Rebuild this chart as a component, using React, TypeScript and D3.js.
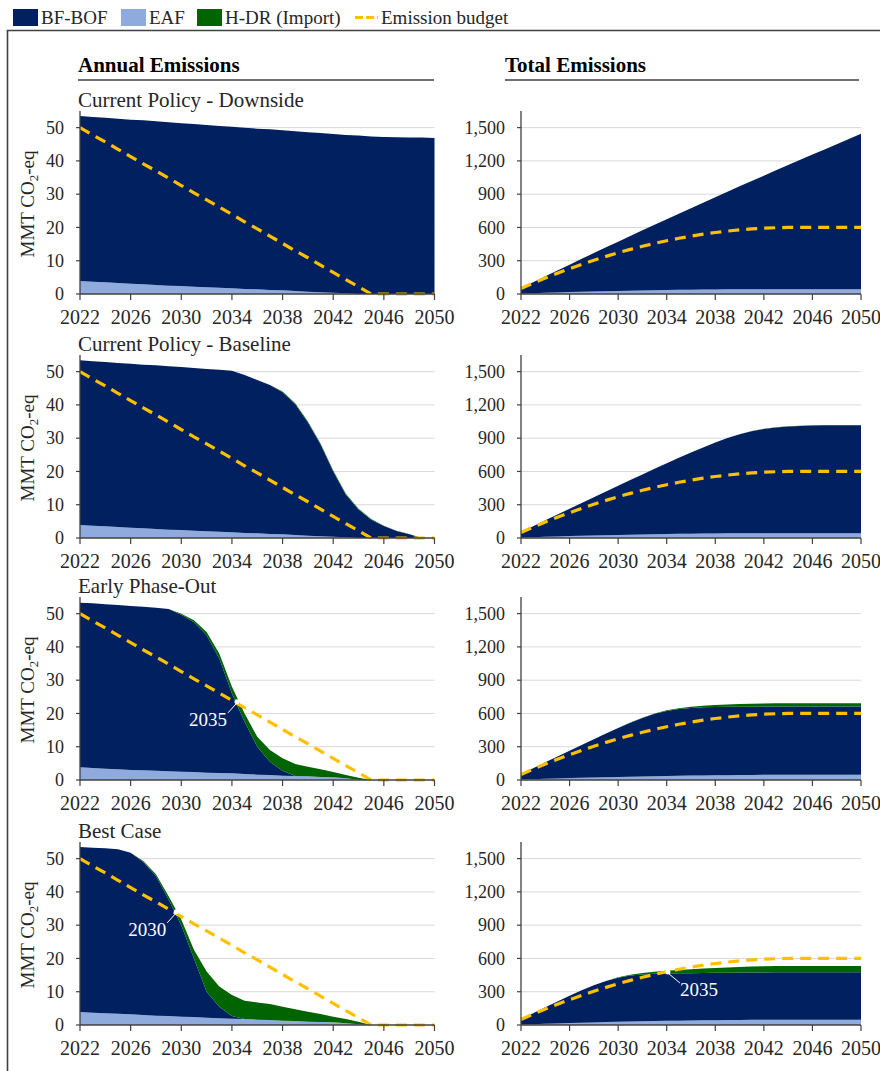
import React from 'react';
import * as d3 from 'd3';

const FONT = "'Liberation Serif', 'Times New Roman', Times, serif";
const COLORS = { bof: '#002060', eaf: '#8faadc', hdr: '#006400', budget: '#ffc000' };

const years = [2022, 2023, 2024, 2025, 2026, 2027, 2028, 2029, 2030, 2031, 2032, 2033, 2034, 2035, 2036,
  2037, 2038, 2039, 2040, 2041, 2042, 2043, 2044, 2045, 2046, 2047, 2048, 2049, 2050];
const xTicks = [2022, 2026, 2030, 2034, 2038, 2042, 2046, 2050];
const annualTicks = [0, 10, 20, 30, 40, 50];
const totalTicks = [0, 300, 600, 900, 1200, 1500];

// emission budget, annual and running total
const budgetAnnual = [50, 47.8, 45.7, 43.5, 41.3, 39.1, 37.0, 34.8, 32.6, 30.4, 28.3, 26.1, 23.9, 21.7, 19.6,
  17.4, 15.2, 13.0, 10.9, 8.7, 6.5, 4.3, 2.2, 0, 0, 0, 0, 0, 0];
const budgetTotal = [50, 97.8, 143.5, 187.0, 228.3, 267.4, 304.4, 339.2, 371.8, 402.2, 430.5, 456.6, 480.5, 502.2,
  521.8, 539.2, 554.4, 567.4, 578.3, 587.0, 593.5, 597.8, 600, 600, 600, 600, 600, 600, 600];

// Current Policy - Downside
const downBof = [49.6, 49.5, 49.5, 49.4, 49.3, 49.3, 49.2, 49.1, 48.9, 48.9, 48.8, 48.6, 48.6, 48.5, 48.3,
  48.3, 48.1, 48.0, 47.9, 47.9, 47.7, 47.6, 47.6, 47.3, 47.2, 47.1, 47.0, 47.0, 46.9];
const downEaf = [3.9, 3.7, 3.5, 3.3, 3.1, 2.9, 2.7, 2.5, 2.4, 2.2, 2.0, 1.9, 1.7, 1.5, 1.4,
  1.2, 1.1, 0.9, 0.7, 0.5, 0.4, 0.2, 0, 0, 0, 0, 0, 0, 0];
const downHdr = [0, 0, 0, 0, 0, 0, 0, 0, 0, 0, 0, 0, 0, 0, 0, 0, 0, 0, 0, 0, 0, 0, 0, 0, 0, 0, 0, 0, 0];
const downBofCum = [49.6, 99.1, 148.6, 198.0, 247.3, 296.6, 345.8, 394.9, 443.8, 492.7, 541.5, 590.1, 638.7, 687.2,
  735.5, 783.8, 831.9, 879.9, 927.8, 975.7, 1023.4, 1071.0, 1118.6, 1165.9, 1213.1, 1260.2, 1307.2, 1354.2, 1401.1];
const downEafCum = [3.9, 7.6, 11.1, 14.4, 17.5, 20.4, 23.1, 25.6, 28.0, 30.2, 32.2, 34.1, 35.8, 37.3, 38.7,
  39.9, 41.0, 41.9, 42.6, 43.1, 43.5, 43.7, 43.7, 43.7, 43.7, 43.7, 43.7, 43.7, 43.7];
const downHdrCum = [0, 0, 0, 0, 0, 0, 0, 0, 0, 0, 0, 0, 0, 0, 0, 0, 0, 0, 0, 0, 0, 0, 0, 0, 0, 0, 0, 0, 0];

// Current Policy - Baseline
const baseBof = [49.5, 49.4, 49.4, 49.3, 49.3, 49.2, 49.2, 49.1, 49.0, 48.9, 48.8, 48.7, 48.6, 47.5, 46.1,
  44.8, 42.7, 39.3, 34.0, 27.6, 19.6, 12.8, 8.6, 5.5, 3.6, 2.1, 1.1, 0, 0];
const baseEaf = [3.9, 3.7, 3.5, 3.3, 3.1, 2.9, 2.7, 2.5, 2.4, 2.2, 2.0, 1.9, 1.7, 1.5, 1.4,
  1.2, 1.1, 0.9, 0.7, 0.5, 0.4, 0.2, 0, 0, 0, 0, 0, 0, 0];
const baseHdr = [0, 0, 0, 0, 0, 0, 0, 0, 0, 0, 0, 0, 0, 0, 0, 0, 0.2, 0.3, 0.3, 0.3, 0.3, 0.3, 0.2, 0.2, 0.1, 0.1, 0.1, 0, 0];
const baseBofCum = [49.5, 98.9, 148.3, 197.6, 246.9, 296.1, 345.3, 394.4, 443.4, 492.3, 541.1, 589.8, 638.4, 685.9,
  732.0, 776.8, 819.5, 858.8, 892.8, 920.4, 940.0, 952.8, 961.4, 966.9, 970.5, 972.6, 973.7, 973.7, 973.7];
const baseEafCum = [3.9, 7.6, 11.1, 14.4, 17.5, 20.4, 23.1, 25.6, 28.0, 30.2, 32.2, 34.1, 35.8, 37.3, 38.7,
  39.9, 41.0, 41.9, 42.6, 43.1, 43.5, 43.7, 43.7, 43.7, 43.7, 43.7, 43.7, 43.7, 43.7];
const baseHdrCum = [0, 0, 0, 0, 0, 0, 0, 0, 0, 0, 0, 0, 0, 0, 0, 0, 0.2, 0.5, 0.8, 1.1, 1.4, 1.7, 1.9, 2.1, 2.2,
  2.3, 2.4, 2.4, 2.4];

// Early Phase-Out
const earlyBof = [49.5, 49.5, 49.4, 49.4, 49.3, 49.2, 49.0, 48.8, 47.2, 45.0, 41.3, 34.4, 24.0, 15.7, 8.4,
  4.0, 1.5, 0, 0, 0, 0, 0, 0, 0, 0, 0, 0, 0, 0];
const earlyEaf = [3.8, 3.6, 3.4, 3.2, 3.0, 2.9, 2.8, 2.6, 2.5, 2.4, 2.2, 2.1, 2.0, 1.8, 1.6,
  1.5, 1.3, 1.2, 1.1, 0.9, 0.8, 0.5, 0.1, 0, 0, 0, 0, 0, 0];
const earlyHdr = [0, 0, 0, 0, 0, 0, 0, 0, 0.3, 0.6, 1.0, 1.5, 2.0, 2.5, 3.0, 3.5, 3.7, 3.6, 2.9, 2.3, 1.6, 1.0, 0.6,
  0, 0, 0, 0, 0, 0];
const earlyBofCum = [49.5, 99.0, 148.4, 197.8, 247.1, 296.3, 345.3, 394.1, 441.3, 486.3, 527.6, 562.0, 586.0, 601.7,
  610.1, 614.1, 615.6, 615.6, 615.6, 615.6, 615.6, 615.6, 615.6, 615.6, 615.6, 615.6, 615.6, 615.6, 615.6];
const earlyEafCum = [3.8, 7.4, 10.8, 14.0, 17.0, 19.9, 22.7, 25.3, 27.8, 30.2, 32.4, 34.5, 36.5, 38.3, 39.9,
  41.4, 42.7, 43.9, 45.0, 45.9, 46.7, 47.2, 47.3, 47.3, 47.3, 47.3, 47.3, 47.3, 47.3];
const earlyHdrCum = [0, 0, 0, 0, 0, 0, 0, 0, 0.3, 0.9, 1.9, 3.4, 5.4, 7.9, 10.9, 14.4, 18.1, 21.7, 24.6, 26.9,
  28.5, 29.5, 30.1, 30.1, 30.1, 30.1, 30.1, 30.1, 30.1];

// Best Case
const bestBof = [49.6, 49.6, 49.6, 49.4, 48.6, 46.0, 42.0, 35.0, 27.5, 17.6, 7.8, 3.5, 0.8, 0, 0,
  0, 0, 0, 0, 0, 0, 0, 0, 0, 0, 0, 0, 0, 0];
const bestEaf = [3.9, 3.7, 3.5, 3.4, 3.2, 3.0, 2.8, 2.7, 2.5, 2.4, 2.2, 2.0, 1.9, 1.8, 1.6,
  1.5, 1.3, 1.2, 1.0, 0.9, 0.8, 0.5, 0.2, 0, 0, 0, 0, 0, 0];
const bestHdr = [0, 0, 0, 0, 0, 0.3, 0.5, 1.0, 1.7, 2.6, 6.1, 6.1, 6.3, 5.5, 5.2, 4.8, 4.2, 3.5, 3.0, 2.4, 1.7,
  1.3, 0.8, 0, 0, 0, 0, 0, 0];
const bestBofCum = [49.6, 99.2, 148.8, 198.2, 246.8, 292.8, 334.8, 369.8, 397.3, 414.9, 422.7, 426.2, 427.0, 427.0,
  427.0, 427.0, 427.0, 427.0, 427.0, 427.0, 427.0, 427.0, 427.0, 427.0, 427.0, 427.0, 427.0, 427.0, 427.0];
const bestEafCum = [3.9, 7.6, 11.1, 14.5, 17.7, 20.7, 23.5, 26.2, 28.7, 31.1, 33.3, 35.3, 37.2, 39.0, 40.6,
  42.1, 43.4, 44.6, 45.6, 46.5, 47.3, 47.8, 48.0, 48.0, 48.0, 48.0, 48.0, 48.0, 48.0];
const bestHdrCum = [0, 0, 0, 0, 0, 0.3, 0.8, 1.8, 3.5, 6.1, 12.2, 18.3, 24.6, 30.1, 35.3, 40.1, 44.3, 47.8, 50.8,
  53.2, 54.9, 56.2, 57.0, 57.0, 57.0, 57.0, 57.0, 57.0, 57.0];

const scenarios = [
  { title: 'Current Policy - Downside', zero: 294,
    annual: [downBof, downEaf, downHdr], total: [downBofCum, downEafCum, downHdrCum], annualNotes: [], totalNotes: [] },
  { title: 'Current Policy - Baseline', zero: 538,
    annual: [baseBof, baseEaf, baseHdr], total: [baseBofCum, baseEafCum, baseHdrCum], annualNotes: [], totalNotes: [] },
  { title: 'Early Phase-Out', zero: 780,
    annual: [earlyBof, earlyEaf, earlyHdr], total: [earlyBofCum, earlyEafCum, earlyHdrCum],
    annualNotes: [{ year: 2034.4, value: 23.5, label: '2035', side: 'left' }], totalNotes: [] },
  { title: 'Best Case', zero: 1025,
    annual: [bestBof, bestEaf, bestHdr], total: [bestBofCum, bestEafCum, bestHdrCum],
    annualNotes: [{ year: 2029.6, value: 34, label: '2030', side: 'left' }],
    totalNotes: [{ year: 2034.1, value: 478, label: '2035', side: 'right' }] },
];

const legendItems = [
  { label: 'BF-BOF', color: COLORS.bof, x: 13 },
  { label: 'EAF', color: COLORS.eaf, x: 121 },
  { label: 'H-DR (Import)', color: COLORS.hdr, x: 197 },
];

const PLOT_H = 183;

function Panel({ left, right, zero, max, ticks, fmt, series, budget, yTitle, notes }) {
  const x = d3.scaleLinear().domain([2022, 2050]).range([left, right]);
  const y = d3.scaleLinear().domain([0, max]).range([zero, zero - PLOT_H]);
  const [bof, eaf, hdr] = series;
  const rows = years.map((yr, i) => ({ year: yr, eaf: eaf[i], bof: bof[i], hdr: hdr[i] }));
  const stacked = d3.stack().keys(['eaf', 'bof', 'hdr'])(rows);
  const area = d3.area()
    .x(d => x(d.data.year))
    .y0(d => y(d[0]))
    .y1(d => y(d[1]));
  const line = d3.line().x((d, i) => x(years[i])).y(d => y(d));

  return (
    <g>
      {ticks.filter(t => t > 0).map(t => (
        <line key={'g' + t} x1={left} x2={right} y1={y(t)} y2={y(t)} stroke="#d9d9d9" strokeWidth={1} />
      ))}
      {stacked.map(s => (
        <path key={s.key} d={area(s)} fill={COLORS[s.key]} />
      ))}
      <path d={line(budget)} fill="none" stroke={COLORS.budget} strokeWidth={3.2} strokeDasharray="11,7" />
      {/* axes */}
      <line x1={left} x2={left} y1={zero} y2={zero - PLOT_H} stroke="#404040" strokeWidth={1.3} />
      <line x1={left} x2={right} y1={zero} y2={zero} stroke="#404040" strokeWidth={1.3} />
      {ticks.map(t => (
        <g key={'y' + t}>
          <line x1={left - 4} x2={left} y1={y(t)} y2={y(t)} stroke="#404040" strokeWidth={1.2} />
          <text x={left - 16} y={y(t)} dy="0.35em" textAnchor="end" fontSize={18} fill="#262626"
            style={{ fontFamily: FONT }}>{fmt(t)}</text>
        </g>
      ))}
      {xTicks.map(t => (
        <g key={'x' + t}>
          <line x1={x(t)} x2={x(t)} y1={zero} y2={zero + 6} stroke="#404040" strokeWidth={1.2} />
          <text x={x(t)} y={zero + 30} textAnchor="middle" fontSize={20} fill="#262626"
            style={{ fontFamily: FONT }}>{t}</text>
        </g>
      ))}
      {yTitle && (
        <text transform={`translate(34,${zero - 90}) rotate(-90)`} textAnchor="middle" fontSize={19} fill="#262626"
          style={{ fontFamily: FONT }}>
          MMT CO<tspan dy="4" fontSize={13}>2</tspan><tspan dy="-4">-eq</tspan>
        </text>
      )}
      {notes.map(n => {
        const px = x(n.year);
        const py = y(n.value);
        const lx = n.side === 'left' ? px - 9 : px + 12;
        const ly = py + 11;
        return (
          <g key={n.label + n.year}>
            <circle cx={px} cy={py} r={2.5} fill="#ffffff" />
            <line x1={px} y1={py + 1} x2={lx} y2={ly} stroke="#ffffff" strokeWidth={1} />
            <text x={n.side === 'left' ? lx - 1 : lx} y={ly + 13}
              textAnchor={n.side === 'left' ? 'end' : 'start'} fontSize={19} fill="#ffffff"
              style={{ fontFamily: FONT }}>{n.label}</text>
          </g>
        );
      })}
    </g>
  );
}

export default function App() {
  const fmtAnnual = d3.format('d');
  const fmtTotal = d3.format(',');
  const txt = { fontFamily: FONT };
  return (
    <svg width={880} height={1071} style={{ position: 'absolute', left: 0, top: 0, background: '#fff', fontFamily: FONT }}>
      {/* legend */}
      {legendItems.map(item => (
        <g key={item.label}>
          <rect x={item.x} y={9} width={25} height={17} fill={item.color} />
          <text x={item.x + 28} y={23.5} fontSize={19} fill="#262626" style={txt}>{item.label}</text>
        </g>
      ))}
      <line x1={355} x2={378} y1={17.5} y2={17.5} stroke={COLORS.budget} strokeWidth={3} strokeDasharray="8,3" />
      <text x={381} y={23.5} fontSize={19} fill="#262626" style={txt}>Emission budget</text>

      {/* frame */}
      <path d="M7.5,1071 V30.5 H880" fill="none" stroke="#404040" strokeWidth={1.6} />

      {/* column headers */}
      <text x={78} y={72} fontSize={21} fontWeight="bold" fill="#000" style={txt}>Annual Emissions</text>
      <line x1={78} x2={434} y1={80} y2={80} stroke="#404040" strokeWidth={1.3} />
      <text x={505} y={72} fontSize={21} fontWeight="bold" fill="#000" style={txt}>Total Emissions</text>
      <line x1={505} x2={859} y1={80} y2={80} stroke="#404040" strokeWidth={1.3} />

      {scenarios.map(s => (
        <g key={s.title}>
          <text x={78} y={s.zero - 187} fontSize={21} fill="#262626" style={txt}>{s.title}</text>
          <Panel left={80} right={434.5} zero={s.zero} max={55} ticks={annualTicks} fmt={fmtAnnual}
            series={s.annual} budget={budgetAnnual} yTitle notes={s.annualNotes} />
          <Panel left={521} right={861} zero={s.zero} max={1650} ticks={totalTicks} fmt={fmtTotal}
            series={s.total} budget={budgetTotal} yTitle={false} notes={s.totalNotes} />
        </g>
      ))}
    </svg>
  );
}
